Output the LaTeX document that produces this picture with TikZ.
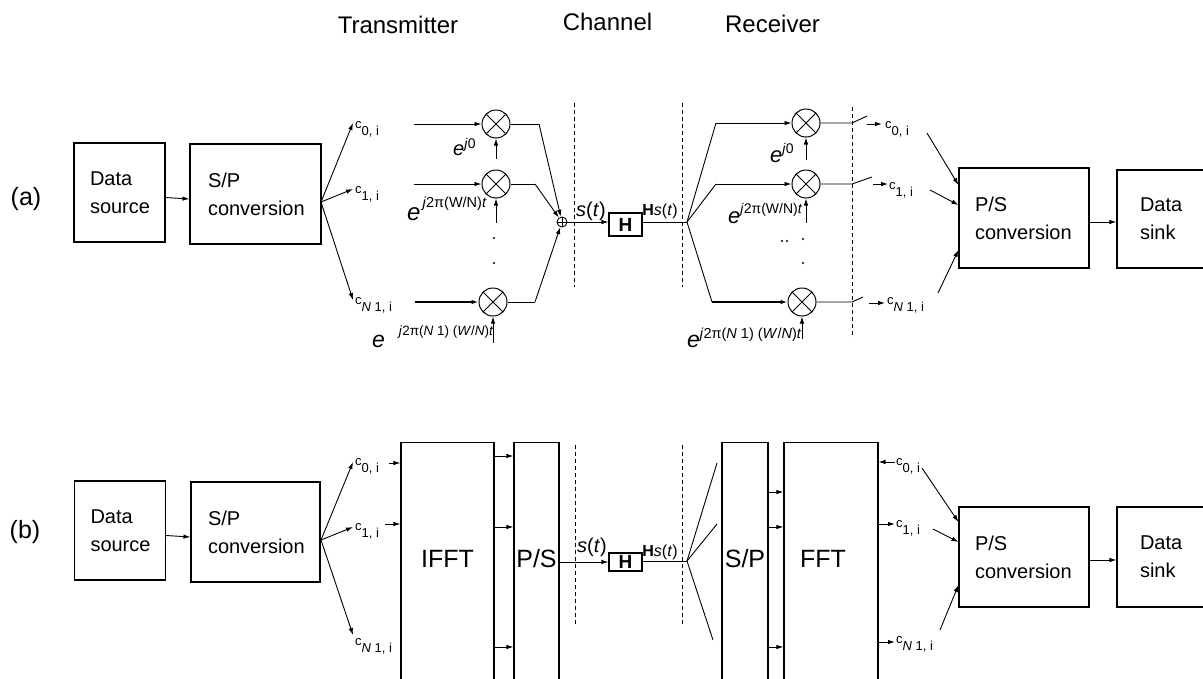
\documentclass[tikz,border=0pt]{standalone}
\usepackage{fontspec}
\setmainfont{Liberation Sans}
\usetikzlibrary{arrows.meta,calc}
\newcommand\myfs[2]{\fontsize{#1}{#2}\selectfont}
\newcommand\csb[1]{c\raisebox{-7pt}{#1}}
\begin{document}
\begin{tikzpicture}[x=1pt,y=-1pt,
 ln/.style={line width=0.9pt},
 arr/.style={line width=0.9pt,-{Latex[length=7pt,width=4.5pt]}},
 thickarr/.style={line width=1.6pt,-{Latex[length=7pt,width=4.5pt]}},
 box/.style={draw,line width=1.1pt,align=left,inner ysep=0pt,font=\myfs{20}{28}},
 tall/.style={draw,line width=1.1pt,anchor=north,minimum height=260pt,inner sep=0pt,font=\myfs{25}{25}},
 mult/.style={circle,draw,line width=1pt,minimum size=28pt,inner sep=0pt,
   path picture={\draw[line width=1pt] (path picture bounding box.north west)--(path picture bounding box.south east)
     (path picture bounding box.north east)--(path picture bounding box.south west);}},
 adder/.style={circle,draw,line width=0.9pt,minimum size=10pt,inner sep=0pt,
   path picture={\draw[line width=0.8pt] (path picture bounding box.north)--(path picture bounding box.south)
     (path picture bounding box.east)--(path picture bounding box.west);}},
 hbox/.style={draw,line width=1.1pt,inner sep=0pt,font=\bfseries\myfs{19}{19}},
 chan/.style={line width=0.9pt,dash pattern=on 4pt off 3pt},
 clab/.style={anchor=base west,inner sep=0pt,font=\myfs{13}{13}},
 elab/.style={anchor=base west,inner sep=0pt},
 sig/.style={inner sep=0pt,anchor=base},
 title/.style={anchor=base,inner sep=0pt,font=\myfs{24}{24}},
 dotmark/.style={circle,fill,inner sep=0pt,minimum size=2.2pt}
]
\useasboundingbox (0,0) rectangle (1203,678);
\clip (0,0) rectangle (1203,678);

% ---------- titles ----------
\node[title] (tt) at (398,33) {Transmitter};
\node[title] (tc) at (607.5,30) {Channel};
\node[title] (tr) at (772.5,32) {Receiver};
\node[title,font=\myfs{25}{25}] (la) at (26,205) {(a)};
\node[title,font=\myfs{25}{25}] (lb) at (25,538) {(b)};

% =================== (a) ===================
\node[box,minimum height=99pt,text width=59pt,inner xsep=16pt] (dsa) at (119.5,192.5) {Data\\source};
\node[box,minimum height=100pt,text width=95pt,inner xsep=18pt] (spa) at (255.5,194) {S/P\\conversion};
\draw[arr] ([yshift=-5pt]dsa.east) -- ([yshift=-5pt]spa.west);

\coordinate (fa) at (321,202);
\node[clab] (c0a) at (355,128) {\csb{0, i}};
\node[clab] (c1a) at (355,193) {\csb{1, i}};
\node[clab] (cNa) at (355,304) {\csb{\textit{N} 1, i}};
\draw[arr] (fa) -- ([shift={(-2pt,5pt)}]c0a.base west);
\draw[arr] (fa) -- ([shift={(-2pt,4pt)}]c1a.base west);
\draw[arr] (fa) -- ([shift={(-2pt,4pt)}]cNa.base west);

\node[mult] (m1a) at (496,124) {};
\node[mult] (m2a) at (496,184) {};
\node[mult] (m3a) at (493,302) {};
\draw[arr] ([xshift=-68pt]m1a.west) -- (m1a.west);
\draw[arr] ([xshift=-68pt]m2a.west) -- (m2a.west);
\draw[thickarr] ([xshift=-64pt]m3a.west) -- (m3a.west);

\node[elab] (e0a) at (453,155) {\myfs{20}{20}\textit{e}\raisebox{7pt}{\myfs{14}{14}\textit{j}0}};
\node[elab] (e1a) at (407,220) {\myfs{24}{24}\textit{e}\hspace{2pt}\raisebox{13pt}{\myfs{14.5}{14.5}\textit{j}2π(W/N)\textit{t}}};
\node[elab] (eNa) at (372,347) {\myfs{23}{23}\textit{e}\hspace{14pt}\raisebox{12pt}{\myfs{13.5}{13.5}\textit{j}2π(\textit{N} 1) (\textit{W}/\textit{N})\textit{t}}};
\draw[arr] ([yshift=-20pt]m1a.south) -- (m1a.south);
\draw[arr] ([yshift=-24pt]m2a.south) -- (m2a.south);
\draw[arr] ([yshift=-26pt]m3a.south) -- (m3a.south);
\node[dotmark] (d1a) at (494,238) {};
\node[dotmark] (d2a) at (494,263) {};

\node[adder] (sum) at (562,222) {};
\coordinate (k1) at (539,124);
\coordinate (k2) at (535,184);
\coordinate (k3) at (535,302);
\draw[ln] (m1a.east) -- (k1);
\draw[arr] (k1) -- (sum);
\draw[ln] (m2a.east) -- (k2);
\draw[arr] (k2) -- (sum);
\draw[ln] (m3a.east) -- (k3);
\draw[arr] (k3) -- (sum);

\draw[chan] (574,103) -- (574,287);
\draw[chan] (682,103) -- (682,287);
\draw[chan] (852,107) -- (852,338);

\node[hbox,minimum width=33pt,minimum height=23pt] (Ha) at (625.5,224.5) {H};
\draw[arr] (sum.east) -- (sum.east -| Ha.west);
\node[sig,font=\myfs{20}{20}] (sta) at (591,216) {\textit{s}(\textit{t})};
\node[sig,font=\myfs{16}{16}] (hsa) at (660,215) {\textbf{H}\textit{s}(\textit{t})};
\coordinate (sa) at (687,222);
\draw[ln] (sa -| Ha.east) -- (sa);

\node[mult] (m1r) at (806,123) {};
\node[mult] (m2r) at (806,184) {};
\node[mult] (m3r) at (802,302) {};
\coordinate (b1) at (716,123);
\coordinate (b2) at (716,184);
\coordinate (b3) at (712,302);
\draw[ln] (sa) -- (b1); \draw[arr] (b1) -- (m1r.west);
\draw[ln] (sa) -- (b2); \draw[arr] (b2) -- (m2r.west);
\draw[ln] (sa) -- (b3); \draw[thickarr] (b3) -- (m3r.west);

\node[elab] (e0r) at (770,162) {\myfs{22}{22}\textit{e}\raisebox{9pt}{\myfs{14}{14}\textit{j}0}};
\node[elab] (e1r) at (728,223) {\myfs{22}{22}\textit{e}\raisebox{10pt}{\myfs{14}{14}\textit{j}2π(W/N)\textit{t}}};
\node[elab] (eNr) at (687,347) {\myfs{23}{23}\textit{e}\raisebox{9pt}{\myfs{14.5}{14.5}\textit{j}2π(\textit{N} 1) (\textit{W}/\textit{N})\textit{t}}};
\draw[arr] ([yshift=-22pt]m1r.south) -- (m1r.south);
\draw[arr] ([yshift=-24pt]m2r.south) -- (m2r.south);
\draw[arr] ([yshift=-22pt]m3r.south) -- (m3r.south);
\node[dotmark] (d1r) at (782,241) {};
\node[dotmark] (d2r) at (787,241) {};
\node[dotmark] (d3r) at (803,239) {};
\node[dotmark] (d4r) at (803,263) {};

\coordinate (w1) at (852,123);
\coordinate (w2) at (852,184);
\coordinate (w3) at (852,302);
\draw[ln] (m1r.east) -- (w1) -- ++(15,-7);
\draw[ln] (m2r.east) -- (w2) -- ++(20,-7);
\draw[ln] (m3r.east) -- (w3) -- ++(11,-5);
\node[clab] (c0r) at (885,128) {\csb{0, i}};
\node[clab] (c1r) at (889,189) {\csb{1, i}};
\node[clab] (cNr) at (887,304) {\csb{\textit{N} 1, i}};
\draw[arr] ([shift={(-18pt,4pt)}]c0r.base west) -- ([shift={(-3pt,4pt)}]c0r.base west);
\draw[arr] ([shift={(-16pt,5pt)}]c1r.base west) -- ([shift={(-1pt,5pt)}]c1r.base west);
\draw[arr] ([shift={(-18pt,1pt)}]cNr.base west) -- ([shift={(-2pt,1pt)}]cNr.base west);

\node[box,minimum height=100pt,text width=98pt,inner xsep=16pt] (psa) at (1024,218) {P/S\\conversion};
\node[box,minimum height=98pt,text width=64pt,inner xsep=23pt] (dka) at (1172,219) {Data\\sink};
\coordinate (q0) at (927,133);
\coordinate (q1) at (930,190);
\coordinate (q2) at (938,293);
\draw[arr] (q0) -- ([yshift=33pt]psa.west);
\draw[arr] (q1) -- ([yshift=13pt]psa.west);
\draw[arr] (q2) -- ([yshift=-32pt]psa.west);
\draw[arr] ([yshift=-4pt]psa.east) -- ([yshift=-4pt]psa.east -| dka.west);

% =================== (b) ===================
\node[box,minimum height=99pt,text width=59pt,inner xsep=16pt] (dsb) at (120,530.5) {Data\\source};
\node[box,minimum height=100pt,text width=95pt,inner xsep=17pt] (spb) at (255.5,532) {S/P\\conversion};
\draw[arr] ([yshift=-5pt]dsb.east) -- ([yshift=-5pt]spb.west);

\coordinate (fb) at (321,540);
\node[clab] (c0b) at (355,465) {\csb{0, i}};
\node[clab] (c1b) at (355,530) {\csb{1, i}};
\node[clab] (cNb) at (355,645) {\csb{\textit{N} 1, i}};
\draw[arr] (fb) -- ([shift={(-2pt,3pt)}]c0b.base west);
\draw[arr] (fb) -- ([shift={(-2pt,3pt)}]c1b.base west);
\draw[arr] (fb) -- ([shift={(-2pt,10pt)}]cNb.base west);

\node[tall,minimum width=93pt] (ifft) at (447.5,442) {\raisebox{5pt}[0pt][0pt]{IFFT}};
\node[tall,minimum width=45pt] (psb) at (536.5,442) {\raisebox{5pt}[0pt][0pt]{P/S}};
\coordinate (t0) at (389,463);
\coordinate (t1) at (385,524);
\draw[arr] (t0) -- (t0 -| ifft.west);
\draw[arr] (t1) -- (t1 -| ifft.west);
\draw[arr] ([yshift=-14pt]ifft.north east) -- ([yshift=-14pt]psb.north west);
\draw[arr] ([yshift=-85pt]ifft.north east) -- ([yshift=-85pt]psb.north west);
\draw[arr] ([yshift=-205pt]ifft.north east) -- ([yshift=-205pt]psb.north west);

\draw[chan] (575,445) -- (575,625);
\draw[chan] (682,445) -- (682,625);
\node[hbox,minimum width=33pt,minimum height=18pt] (Hb) at (625.5,562) {H};
\draw[arr] (Hb.west -| psb.east) -- (Hb.west);
\node[sig,font=\myfs{20}{20}] (stb) at (592,552) {\textit{s}(\textit{t})};
\node[sig,font=\myfs{16}{16}] (hsb) at (660,556) {\textbf{H}\textit{s}(\textit{t})};
\coordinate (sb) at (687,561);
\draw[ln] (sb -| Hb.east) -- (sb);
\coordinate (g1) at (717,463);
\coordinate (g2) at (717,524);
\coordinate (g3) at (713,640);
\draw[ln] (sb) -- (g1);
\draw[ln] (sb) -- (g2);
\draw[ln] (sb) -- (g3);

\node[tall,minimum width=46pt] (spr) at (745,442) {\raisebox{5pt}[0pt][0pt]{S/P}};
\node[tall,minimum width=94pt] (fft) at (831,442) {\raisebox{5pt}[0pt][0pt]{FFT\hspace{16pt}}};
\draw[arr] ([yshift=-50pt]spr.north east) -- ([yshift=-50pt]fft.north west);
\draw[arr] ([yshift=-85pt]spr.north east) -- ([yshift=-85pt]fft.north west);
\draw[arr] ([yshift=-205pt]spr.north east) -- ([yshift=-205pt]fft.north west);

\node[clab] (c0f) at (896,465) {\csb{0, i}};
\node[clab] (c1f) at (896,527) {\csb{1, i}};
\node[clab] (cNf) at (896,643) {\csb{\textit{N} 1, i}};
\coordinate (u0) at ([shift={(-1pt,3pt)}]c0f.base west);
\coordinate (u1) at ([shift={(-1pt,3pt)}]c1f.base west);
\coordinate (u2) at ([shift={(-1pt,1pt)}]cNf.base west);
\draw[arr] (u0) -- (u0 -| fft.east);
\draw[arr] (u1 -| fft.east) -- (u1);
\draw[arr] (u2 -| fft.east) -- (u2);

\node[box,minimum height=100pt,text width=98pt,inner xsep=16pt] (psb2) at (1024,557) {P/S\\conversion};
\node[box,minimum height=100pt,text width=64pt,inner xsep=23pt] (dkb) at (1172,557) {Data\\sink};
\coordinate (v0) at (922,468);
\coordinate (v1) at (933,529);
\coordinate (v2) at (940,630);
\draw[arr] (v0) -- ([yshift=35pt]psb2.west);
\draw[arr] (v1) -- ([yshift=15pt]psb2.west);
\draw[arr] (v2) -- ([yshift=-28pt]psb2.west);
\draw[arr] ([yshift=-3pt]psb2.east) -- ([yshift=-3pt]psb2.east -| dkb.west);
\end{tikzpicture}
\end{document}
